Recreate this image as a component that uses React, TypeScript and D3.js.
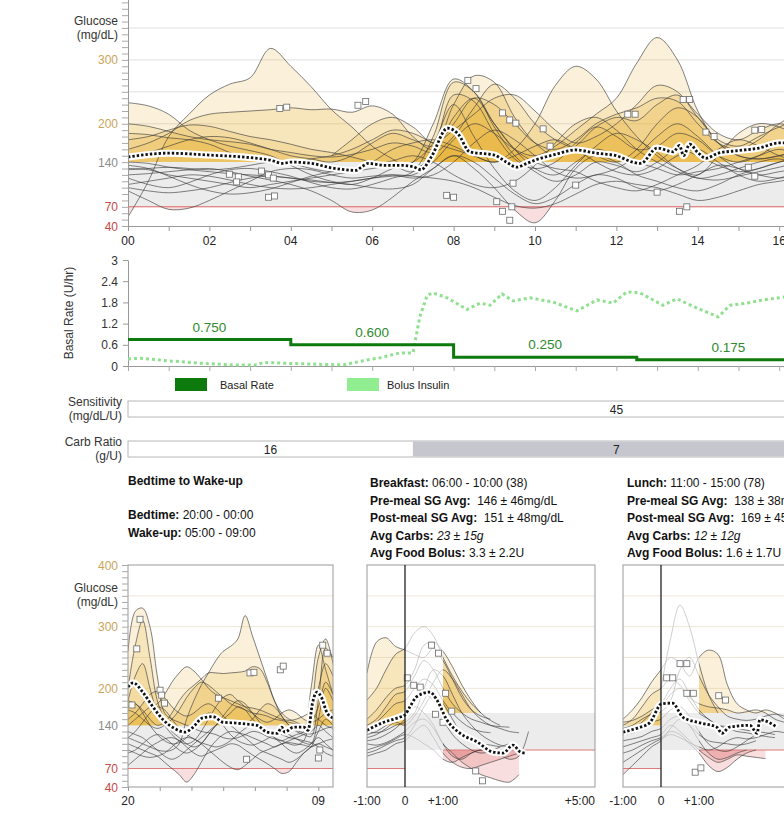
import * as React from "react";
import * as d3 from "d3";

const W = 784;
const H = 823;
const FONT = "'Liberation Sans', Arial, Helvetica, sans-serif";

// ---------- 24h overlay (hours 0..17, every half hour)
const topTimes = d3.range(0, 17.01, 0.5);
const topTraces: (number | null)[][] = [
  [54, 110, 180, 215, 245, 262, 272, 318, 290, 258, 222, 195, 165, 145, 130, 150, 210, 240, 200, 160, 130, 120, 140, 160, 150, 140, 130, 120, 125, 130, 140, 150, 160, 150, 145],
  [160, 170, 185, 205, 215, 218, 220, 222, 225, 222, 223, 218, 228, 215, 180, 160, 230, 275, 265, 210, 170, 150, 165, 195, 210, 205, 230, 245, 215, 185, 175, 190, 200, 190, 180],
  [233, 228, 215, 190, 175, 165, 158, 150, 135, 120, 110, 105, 115, 130, 140, 200, 270, 250, 195, 150, 125, 110, 120, 140, 135, 125, 140, 160, 150, 135, 125, 130, 140, 150, 160],
  [200, 196, 188, 180, 175, 172, 168, 160, 155, 150, 148, 152, 160, 170, 165, 155, 180, 225, 262, 240, 200, 175, 160, 150, 140, 160, 200, 225, 210, 170, 150, 145, 150, 160, 165],
  [185, 183, 178, 175, 168, 155, 145, 140, 138, 145, 150, 160, 175, 190, 185, 170, 160, 150, 140, 160, 200, 260, 290, 270, 220, 180, 150, 130, 120, 150, 185, 200, 195, 180, 175],
  [130, 128, 120, 115, 110, 105, 100, 105, 110, 115, 120, 125, 130, 135, 140, 170, 230, 180, 130, 95, 80, 100, 135, 165, 185, 175, 155, 130, 115, 120, 130, 140, 145, 135, 130],
  [95, 80, 66, 68, 80, 95, 110, 125, 130, 128, 120, 115, 118, 120, 115, 120, 140, 170, 190, 175, 150, 125, 115, 120, 130, 150, 180, 200, 180, 150, 130, 120, 125, 130, 135],
  [120, 122, 125, 128, 130, 125, 118, 112, 105, 95, 80, 62, 65, 85, 110, 130, 150, 140, 115, 90, 75, 85, 105, 120, 115, 100, 95, 105, 120, 135, 130, 120, 115, 120, 125],
  [140, 138, 132, 128, 125, 122, 120, 118, 115, 112, 108, 105, 100, 98, 105, 130, 150, 130, 100, 65, 45, 80, 130, 150, 140, 120, 110, 100, 95, 105, 120, 130, 140, 145, 140],
  [105, 110, 115, 120, 118, 112, 105, 100, 98, 100, 105, 110, 115, 118, 120, 140, 175, 200, 185, 160, 150, 165, 190, 215, 240, 295, 335, 300, 220, 170, 150, 145, 150, 155, 150],
  [115, 105, 100, 108, 120, 128, 130, 125, 118, 108, 100, 98, 105, 115, 125, 180, 265, 250, 200, 160, 140, 130, 125, 110, 100, 95, 105, 120, 135, 160, 175, 165, 150, 140, 135],
  [135, 130, 118, 105, 95, 90, 92, 98, 108, 118, 125, 130, 135, 142, 150, 140, 120, 105, 100, 110, 135, 170, 200, 210, 190, 160, 140, 125, 115, 112, 118, 125, 132, 140, 145],
  [150, 155, 165, 175, 180, 178, 170, 160, 150, 145, 140, 150, 170, 185, 175, 165, 200, 240, 230, 200, 170, 160, 175, 200, 215, 225, 240, 235, 200, 170, 160, 175, 200, 215, 205],
  [100, 95, 92, 95, 100, 108, 115, 118, 115, 110, 108, 110, 115, 120, 118, 115, 110, 100, 85, 72, 68, 75, 90, 105, 110, 105, 100, 90, 80, 85, 95, 105, 110, 115, 118],
  [175, 180, 190, 198, 196, 188, 180, 175, 168, 160, 155, 148, 140, 135, 125, 160, 245, 235, 185, 145, 130, 140, 170, 195, 180, 160, 165, 185, 175, 150, 140, 150, 170, 180, 175],
  [128, 130, 132, 130, 128, 130, 135, 140, 138, 130, 125, 128, 140, 160, 170, 175, 165, 150, 140, 150, 165, 175, 160, 140, 125, 120, 130, 150, 160, 140, 120, 110, 115, 125, 130],
  [null, null, null, null, null, null, null, null, null, null, 150, 175, 200, 210, 195, 170, 190, 215, 240, 245, 220, 190, 170, 180, 200, 230, 260, 250, 210, 175, 165, 180, 195, 205, 200],
];
const topMeanT = [0, 1, 2, 3, 3.5, 3.8, 4, 4.5, 5, 5.6, 5.75, 5.9, 6.3, 6.7, 7, 7.2, 7.45, 7.85, 8.1, 8.4, 9, 9.3, 9.55, 9.8, 10, 10.5, 11, 11.5, 12, 12.4, 12.6, 13, 13.4, 13.55, 13.65, 13.8, 14, 14.2, 14.5, 15, 15.5, 16, 16.5, 17];
const topMeanV = [148, 154, 151, 147, 143, 138, 140, 138, 131, 127, 133, 138, 135, 135, 133, 128, 148, 193, 185, 156, 151, 140, 132, 138, 143, 152, 159, 154, 150, 140, 138, 162, 156, 166, 150, 168, 155, 146, 154, 158, 162, 170, 170, 168];
const topMarkT = [3.73, 3.9, 5.65, 5.84, 2.49, 2.71, 2.67, 3.28, 3.45, 3.57, 3.45, 3.6, 8.35, 8.55, 9.2, 9.38, 9.53, 10.2, 10.37, 7.83, 8.0, 9.06, 9.2, 9.43, 9.38, 9.46, 11.0, 12.28, 12.46, 13.64, 13.8, 14.2, 14.4, 13.0, 13.55, 13.73, 15.24, 15.4, 15.4, 15.57];
const topMarkV = [224, 226, 229, 235, 121, 117, 109, 126, 120, 115, 85, 87, 268, 255, 217, 206, 201, 192, 165, 88, 85, 78, 63, 70, 49, 107, 104, 215, 215, 238, 238, 187, 180, 93, 63, 70, 132, 118, 190, 191];

// ---------- basal / bolus
const basalT = [0, 4, 8, 12.5, 17];
const basalV = [0.75, 0.6, 0.25, 0.175, 0.175];
const basalText = ["0.750", "0.600", "0.250", "0.175"];
const basalTicks = [0, 0.6, 1.2, 1.8, 2.4, 3];
const basalTickText = ["0", "0.6", "1.2", "1.8", "2.4", "3"];
const bolusT = [0, 0.3, 0.96, 1.77, 2.58, 3.17, 3.32, 3.8, 4.64, 5.28, 5.87, 6.19, 6.68, 7.0, 7.17, 7.35, 7.49, 7.84, 8.33, 8.65, 8.9, 9.19, 9.46, 9.88, 10.44, 11.03, 11.52, 11.92, 12.26, 12.58, 13.14, 13.49, 13.98, 14.5, 14.79, 15.21, 15.6, 16.12, 17];
const bolusV = [0.2, 0.22, 0.15, 0.08, 0.03, 0.03, 0.1, 0.08, 0.05, 0.03, 0.17, 0.23, 0.37, 0.37, 1.39, 2.0, 2.07, 1.93, 1.6, 1.78, 1.72, 2.04, 1.84, 1.93, 1.81, 1.56, 1.87, 1.78, 2.1, 2.07, 1.72, 1.9, 1.64, 1.39, 1.72, 1.78, 1.87, 1.95, 2.0];

const sensitivityValue = "45";
const carbStart = [0, 7];
const carbEnd = [7, 17];
const carbValue = ["16", "7"];

// ---------- bedtime to wake-up (hours after 20:00, every half hour)
const bedTimes = d3.range(0, 14.01, 0.5);
const bedTraces: (number | null)[][] = [
  [260, 325, 330, 300, 220, 160, 150, 145, 140, 135, 130, 128, 125, 120, 118, 120, 125, 130, 128, 122, 118, 115, 120, 125, 130, 200, 270, 230, 190],
  [200, 270, 310, 250, 180, 150, 130, 120, 110, 105, 110, 125, 140, 150, 160, 170, 165, 150, 140, 130, 120, 115, 110, 108, 115, 160, 250, 280, 240],
  [120, 115, 110, 105, 100, 98, 100, 110, 150, 180, 205, 225, 245, 260, 268, 280, 318, 285, 250, 215, 180, 155, 140, 132, 128, 126, 130, 135, 138],
  [180, 175, 165, 150, 140, 145, 160, 180, 195, 205, 215, 225, 225, 224, 225, 226, 228, 235, 232, 210, 180, 160, 150, 145, 140, 150, 200, 240, 220],
  [110, 105, 100, 95, 90, 80, 70, 60, 48, 60, 80, 100, 115, 125, 130, 128, 125, 120, 115, 110, 105, 110, 115, 120, 125, 130, 140, 130, 120],
  [180, 220, 240, 200, 160, 140, 125, 115, 110, 115, 130, 150, 170, 185, 190, 180, 170, 160, 150, 145, 150, 160, 165, 160, 150, 145, 150, 160, 165],
  [130, 125, 120, 110, 100, 90, 85, 90, 100, 110, 120, 130, 140, 145, 140, 130, 120, 110, 100, 95, 90, 85, 80, 85, 95, 105, 130, 150, 140],
  [95, 100, 110, 120, 125, 120, 110, 100, 95, 100, 110, 125, 140, 155, 170, 180, 175, 160, 145, 130, 120, 110, 100, 95, 100, 110, 120, 110, 100],
  [150, 160, 175, 190, 195, 185, 170, 160, 155, 160, 170, 175, 168, 155, 145, 140, 142, 150, 165, 175, 170, 155, 140, 130, 125, 122, 180, 265, 250],
  [100, 95, 90, 88, 90, 95, 105, 115, 120, 118, 110, 100, 90, 80, 72, 68, 75, 85, 95, 100, 105, 110, 112, 110, 108, 105, 110, 115, 118],
  [170, 175, 160, 140, 125, 115, 110, 112, 120, 135, 150, 160, 155, 140, 125, 115, 110, 108, 112, 118, 125, 130, 125, 118, 112, 110, 150, 200, 180],
  [120, 130, 145, 160, 170, 165, 150, 135, 125, 118, 112, 108, 105, 108, 115, 125, 135, 140, 138, 132, 128, 125, 120, 118, 115, 112, 105, 95, 90],
  [75, 85, 95, 105, 112, 118, 120, 115, 105, 95, 90, 95, 100, 105, 110, 108, 100, 92, 85, 78, 70, 62, 65, 80, 95, 105, 110, 105, 100],
  [140, 150, 160, 170, 175, 190, 210, 225, 235, 228, 215, 200, 190, 185, 180, 175, 170, 168, 165, 160, 155, 150, 148, 150, 155, 160, 150, 140, 135],
  [165, 160, 150, 140, 135, 140, 150, 165, 185, 200, 210, 205, 195, 185, 175, 170, 165, 160, 158, 155, 150, 148, 145, 142, 140, 145, 170, 210, 190],
];
const bedMeanT = [0, 0.35, 1, 1.7, 2.4, 3.1, 3.9, 4.4, 5.1, 5.8, 6.5, 7.2, 8.1, 8.8, 9.5, 10.2, 10.5, 10.7, 11.3, 12, 12.3, 12.6, 12.9, 13.2, 13.6, 14];
const bedMeanV = [202, 209, 194, 170, 149, 136, 129, 136, 152, 154, 145, 144, 142, 140, 129, 127, 137, 129, 137, 137, 132, 176, 194, 186, 160, 152];
const bedMarkT = [0.82, 0.6, 0.27, 2.19, 2.3, 2.5, 6.17, 8.33, 8.6, 10.4, 10.6, 13.3, 13.6, 13, 8.1, 13.1];
const bedMarkV = [312, 264, 173, 197, 189, 176, 184, 225, 226, 230, 236, 270, 257, 87, 85, 100];

// ---------- meals (hours relative to meal, every quarter hour from -1:00)
const mealTimes = d3.range(-1, 3.26, 0.25);
const breakfastTraces: (number | null)[][] = [
  [225, 275, 282, 268, 262, 255, 250, 265, 245, 215, 185, 165, 155, 150, null, null, null, null],
  [181, 200, 230, 255, 265, 290, 300, 285, 250, 220, 195, 175, 160, null, null, null, null, null],
  [150, 165, 185, 200, 205, 230, 270, 275, 260, 235, 205, 180, 160, 148, 140, null, null, null],
  [140, 150, 170, 190, 195, 220, 245, 230, 200, 175, 160, 150, 145, 140, 138, 137, null, null],
  [135, 145, 160, 175, 180, 200, 215, 205, 180, 160, 145, 135, 130, 128, null, null, null, null],
  [125, 130, 140, 150, 160, 175, 190, 180, 150, 125, 110, 100, 95, 98, 105, 110, null, null],
  [115, 118, 125, 135, 150, 170, 160, 140, 110, 90, 85, 95, 100, 95, 90, null, null, null],
  [110, 108, 112, 120, 130, 145, 150, 135, 110, 95, 80, 70, 60, 55, 50, 48, 60, null],
  [100, 105, 110, 118, 125, 120, 110, 100, 85, 80, 88, 95, 100, 98, 92, 85, 90, 130],
  [95, 100, 108, 115, 120, 140, 170, 190, 175, 150, 125, 115, 110, 108, 105, null, null, null],
  [130, 128, 132, 140, 145, 160, 200, 230, 220, 190, 160, 140, 125, 115, 108, 105, null, null],
  [90, 95, 100, 110, 115, 130, 140, 120, 95, 80, 72, 70, 75, 80, 85, 90, 95, null],
  [120, 125, 135, 145, 140, 155, 180, 210, 230, 215, 190, 165, 150, 140, 135, 130, 128, null],
];
const breakfastMeanT = [-1, -0.6, -0.15, 0, 0.13, 0.3, 0.66, 0.84, 1.1, 1.45, 1.9, 2.3, 2.58, 2.84, 3.03, 3.16];
const breakfastMeanV = [132, 144, 153, 157, 170, 186, 194, 181, 149, 127, 113, 97, 95, 108, 97, 95];
const breakfastMarkT = [0.7, 0.88, 0.06, 0.23, 0.4, 1.07, 1.23, 0.8, 1.0, 1.86, 2.04];
const breakfastMarkV = [270, 257, 217, 205, 202, 192, 163, 158, 145, 66, 50];

const lunchTraces: (number | null)[][] = [
  [null, null, null, null, 200, 280, 335, 300, 240, 190, 160, null, null, null, null, null, null, null],
  [150, 165, 185, 210, 230, 250, 240, 220, 250, 262, 255, 205, 175, 165, 160, 165, 160, 150],
  [140, 150, 170, 190, 200, 215, 205, 185, 175, 170, 168, 165, 160, 162, 165, 160, 150, 145],
  [130, 135, 145, 160, 170, 190, 200, 180, 160, 150, 140, 138, 135, 132, 130, 128, 125, null],
  [125, 128, 135, 145, 150, 165, 170, 155, 130, 110, 100, 98, 105, 115, 125, null, null, null],
  [115, 118, 122, 130, 135, 150, 155, 140, 115, 95, 85, 88, 95, 100, null, null, null, null],
  [105, 110, 115, 120, 125, 140, 130, 115, 100, 88, 80, 85, 92, 90, 88, 86, null, null],
  [95, 100, 108, 115, 120, 130, 125, 110, 95, 75, 65, 72, 85, 95, 100, null, null, null],
  [80, 90, 100, 110, 118, 125, 120, 112, 105, 100, 105, 115, 120, 118, 120, 125, 130, 128],
  [60, 75, 90, 105, 115, 135, 150, 140, 125, 115, 112, 110, 108, 110, 115, null, null, null],
  [135, 140, 150, 158, 162, 180, 230, 250, 220, 190, 170, 155, 150, 148, 150, 155, 158, 155],
  [145, 148, 155, 165, 175, 200, 215, 190, 165, 150, 140, 135, 130, 128, 125, 122, 120, null],
];
const lunchMeanT = [-1, -0.6, -0.3, 0.02, 0.3, 0.58, 1.03, 1.47, 1.6, 1.8, 2.34, 2.53, 2.6, 3.05];
const lunchMeanV = [129, 136, 144, 175, 176, 153, 144, 137, 127, 137, 140, 127, 149, 137];
const lunchMarkT = [0.5, 0.68, 0.15, 0.31, 0.68, 0.85, 1.52, 1.7, 0.9, 1.05];
const lunchMarkV = [240, 240, 217, 217, 192, 192, 188, 181, 64, 71];

const mealInfo = [
  { x: 370, title: "Breakfast:", span: " 06:00 - 10:00 (38)", pre: "  146 ± 46mg/dL", post: "  151 ± 48mg/dL", carbs: " 23 ± 15g", bolus: " 3.3 ± 2.2U" },
  { x: 627, title: "Lunch:", span: " 11:00 - 15:00 (78)", pre: "  138 ± 38mg/dL", post: "  169 ± 45mg/dL", carbs: " 12 ± 12g", bolus: " 1.6 ± 1.7U" },
];

const GOLD_TXT = "#c9a55c";
const RED_TXT = "#c84848";
const GRAY_TXT = "#8c8c8c";
const labelColor = (v: number) => (v >= 200 ? GOLD_TXT : v >= 140 ? GRAY_TXT : RED_TXT);

type Zone = { x0: number; x1: number; band: [number, number]; gold?: number; red?: number };

function glucosePanel(svg: any, defs: any, o: any) {
  const { id, x, y, left, top, right, bottom, t, traces, zones } = o;
  const g = svg.append("g");
  const boxId = `${id}-box`;
  defs.append("clipPath").attr("id", boxId).append("rect")
    .attr("x", left).attr("y", top).attr("width", right - left).attr("height", bottom - top);

  g.selectAll(null).data(o.grid).enter().append("line")
    .attr("x1", left).attr("x2", right)
    .attr("y1", (d: number) => y(d)).attr("y2", (d: number) => y(d))
    .attr("stroke", o.gridColor).attr("stroke-width", 1);

  zones.forEach((z: Zone) => {
    g.append("rect")
      .attr("x", x(z.x0)).attr("width", x(z.x1) - x(z.x0))
      .attr("y", y(z.band[1])).attr("height", y(z.band[0]) - y(z.band[1]))
      .attr("fill", "#ececec");
  });

  const curve = d3.curveCatmullRom.alpha(0.5);
  zones.forEach((z: Zone, zi: number) => {
    if (z.gold != null) {
      const cid = `${id}-gold${zi}`;
      defs.append("clipPath").attr("id", cid).append("rect")
        .attr("x", x(z.x0)).attr("width", x(z.x1) - x(z.x0))
        .attr("y", top).attr("height", y(z.gold) - top);
      const area = d3.area<number | null>()
        .defined((d) => d != null)
        .x((_, i) => x(t[i])).y0(y(z.gold)).y1((d) => y(d as number)).curve(curve);
      const gg = g.append("g").attr("clip-path", `url(#${cid})`);
      traces.forEach((tr: (number | null)[]) =>
        gg.append("path").attr("d", area(tr)).attr("fill", "#eab234").attr("fill-opacity", 0.18)
      );
    }
    if (z.red != null) {
      const cid = `${id}-red${zi}`;
      defs.append("clipPath").attr("id", cid).append("rect")
        .attr("x", x(z.x0)).attr("width", x(z.x1) - x(z.x0))
        .attr("y", y(z.red)).attr("height", bottom - y(z.red));
      const area = d3.area<number | null>()
        .defined((d) => d != null)
        .x((_, i) => x(t[i])).y0(y(z.red)).y1((d) => y(d as number)).curve(curve);
      const gr = g.append("g").attr("clip-path", `url(#${cid})`);
      traces.forEach((tr: (number | null)[]) =>
        gr.append("path").attr("d", area(tr)).attr("fill", "#e06a6a").attr("fill-opacity", 0.22)
      );
      g.append("line")
        .attr("x1", x(z.x0)).attr("x2", x(z.x1)).attr("y1", y(z.red)).attr("y2", y(z.red))
        .attr("stroke", "#e07a7a").attr("stroke-width", 1);
    }
  });

  const line = d3.line<number | null>()
    .defined((d) => d != null)
    .x((_, i) => x(t[i])).y((d) => y(d as number)).curve(curve);

  const spans: [number, number, string][] = o.light
    ? [[left, x(o.light[0]), "#3a3a3a"], [x(o.light[0]), x(o.light[1]), "#b4b4b4"], [x(o.light[1]), right, "#3a3a3a"]]
    : [[left, right, "#3a3a3a"]];
  spans.forEach(([a, b, col], si) => {
    const cid = `${id}-ln${si}`;
    defs.append("clipPath").attr("id", cid).append("rect")
      .attr("x", a).attr("y", top).attr("width", b - a).attr("height", bottom - top);
    const gl = g.append("g").attr("clip-path", `url(#${cid})`);
    traces.forEach((tr: (number | null)[]) =>
      gl.append("path").attr("d", line(tr)).attr("fill", "none")
        .attr("stroke", col).attr("stroke-width", 0.75).attr("stroke-opacity", 0.85)
    );
  });

  const gm = g.append("g").attr("clip-path", `url(#${boxId})`);
  gm.selectAll(null).data(o.markT).enter().append("rect")
    .attr("x", (d: number) => x(d) - 3).attr("y", (_: number, i: number) => y(o.markV[i]) - 3)
    .attr("width", 6).attr("height", 6)
    .attr("fill", "#fff").attr("stroke", "#6a6a6a").attr("stroke-width", 0.8);

  const meanLine = d3.line<number>()
    .x((_, i) => x(o.meanT[i])).y((d) => y(d)).curve(d3.curveMonotoneX);
  gm.append("path").attr("d", meanLine(o.meanV)).attr("fill", "none")
    .attr("stroke", "#fff").attr("stroke-width", 7).attr("stroke-linejoin", "round");
  gm.append("path").attr("d", meanLine(o.meanV)).attr("fill", "none")
    .attr("stroke", "#111").attr("stroke-width", 2.8).attr("stroke-dasharray", "2.4,2");
}

export default function App() {
  const ref = React.useRef<SVGSVGElement | null>(null);

  React.useEffect(() => {
    const svg = d3.select(ref.current);
    svg.selectAll("*").remove();
    const defs = svg.append("defs");
    const visible = (px: number) => px < W + 4;

    // ================= top 24h chart
    const xTop = d3.scaleLinear([0, 24], [128, 128 + 24 * 40.7]);
    const yTop = d3.scaleLinear([40, 400], [226, -4]);
    glucosePanel(svg, defs, {
      id: "top", x: xTop, y: yTop, left: 128, top: -4, right: xTop(24), bottom: 226,
      t: topTimes, traces: topTraces,
      zones: [{ x0: 0, x1: 24, band: [70, 140], gold: 140, red: 70 }],
      grid: [200, 250, 300, 350], gridColor: "#e0e0e0",
      meanT: topMeanT, meanV: topMeanV, markT: topMarkT, markV: topMarkV,
    });

    const axL = svg.append("g").attr("transform", "translate(128,0)")
      .call(d3.axisLeft(yTop).tickValues(d3.range(40, 401, 10)).tickSize(6).tickSizeOuter(0).tickFormat(() => ""));
    axL.select(".domain").attr("stroke", "#999");
    axL.selectAll(".tick line").attr("stroke", "#aaa");
    const axB = svg.append("g").attr("transform", "translate(0,226)")
      .call(d3.axisBottom(xTop).tickValues(d3.range(0, 25, 1)).tickSize(5).tickSizeOuter(0).tickFormat(() => ""));
    axB.select(".domain").attr("stroke", "#999");
    axB.selectAll(".tick line").attr("stroke", "#999");

    svg.append("g").selectAll("text").data([40, 70, 140, 200, 300]).enter().append("text")
      .attr("x", 118).attr("y", (d) => yTop(d) + 4.5).attr("text-anchor", "end")
      .attr("font-size", 12).attr("fill", (d) => labelColor(d)).text((d) => d);
    svg.append("g").selectAll("text").data(d3.range(0, 25, 2).filter((d) => visible(xTop(d) - 7))).enter().append("text")
      .attr("x", (d) => xTop(d)).attr("y", 245).attr("text-anchor", "middle")
      .attr("font-size", 12).attr("fill", "#222").text((d) => d3.format("02d")(d));
    [["Glucose", 25], ["(mg/dL)", 39]].forEach(([s, yy]) =>
      svg.append("text").attr("x", 118).attr("y", yy).attr("text-anchor", "end")
        .attr("font-size", 12).attr("fill", "#333").text(s as string)
    );

    // ================= basal chart
    const yBas = d3.scaleLinear([0, 3], [366, 260]);
    const bl = svg.append("g").attr("transform", "translate(128,0)")
      .call(d3.axisLeft(yBas).tickValues(basalTicks).tickSize(5).tickSizeOuter(0).tickFormat(() => ""));
    bl.select(".domain").attr("stroke", "#999");
    bl.selectAll(".tick line").attr("stroke", "#999");
    const bb = svg.append("g").attr("transform", "translate(0,366)")
      .call(d3.axisBottom(xTop).tickValues(d3.range(0, 25, 1)).tickSize(5).tickSizeOuter(0).tickFormat(() => ""));
    bb.select(".domain").attr("stroke", "#999");
    bb.selectAll(".tick line").attr("stroke", "#aaa");
    svg.append("g").selectAll("text").data(basalTicks).enter().append("text")
      .attr("x", 118).attr("y", (d) => yBas(d) + 4.5).attr("text-anchor", "end")
      .attr("font-size", 12).attr("fill", "#333").text((_, i) => basalTickText[i]);
    svg.append("text").attr("transform", "translate(73,313) rotate(-90)")
      .attr("text-anchor", "middle").attr("font-size", 12).attr("fill", "#333").text("Basal Rate (U/hr)");

    const bolusLine = d3.line<number>().x((_, i) => xTop(bolusT[i])).y((d) => yBas(d));
    svg.append("path").attr("d", bolusLine(bolusV)).attr("fill", "none")
      .attr("stroke", "#8fe08f").attr("stroke-width", 3).attr("stroke-dasharray", "3,3");
    const basalLine = d3.line<number>().x((_, i) => xTop(basalT[i])).y((d) => yBas(d)).curve(d3.curveStepAfter);
    svg.append("path").attr("d", basalLine(basalV)).attr("fill", "none")
      .attr("stroke", "#0d7a0d").attr("stroke-width", 3);
    svg.append("g").selectAll("text").data(basalText).enter().append("text")
      .attr("x", (_, i) => xTop((basalT[i] + basalT[i + 1]) / 2))
      .attr("y", (_, i) => yBas(basalV[i]) - 8)
      .attr("text-anchor", "middle").attr("font-size", 13.5).attr("fill", "#2f8a2f").text((d) => d);

    // legend
    svg.append("rect").attr("x", 175).attr("y", 378).attr("width", 32).attr("height", 13).attr("fill", "#0d7a0d");
    svg.append("text").attr("x", 220).attr("y", 389).attr("font-size", 11).attr("fill", "#222").text("Basal Rate");
    svg.append("rect").attr("x", 347).attr("y", 378).attr("width", 32).attr("height", 13).attr("fill", "#90ee90");
    svg.append("text").attr("x", 387).attr("y", 389).attr("font-size", 11).attr("fill", "#222").text("Bolus Insulin");

    // sensitivity & carb ratio
    [["Sensitivity", 406], ["(mg/dL/U)", 420], ["Carb Ratio", 446], ["(g/U)", 460]].forEach(([s, yy]) =>
      svg.append("text").attr("x", 122).attr("y", yy).attr("text-anchor", "end")
        .attr("font-size", 12).attr("fill", "#333").text(s as string)
    );
    svg.append("rect").attr("x", xTop(0)).attr("y", 401).attr("width", xTop(24) - xTop(0)).attr("height", 16)
      .attr("fill", "#fff").attr("stroke", "#c4c4c4").attr("stroke-width", 1.2);
    svg.append("text").attr("x", (xTop(0) + xTop(24)) / 2).attr("y", 413.5).attr("text-anchor", "middle")
      .attr("font-size", 12).attr("fill", "#222").text(sensitivityValue);
    svg.append("rect").attr("x", xTop(0)).attr("y", 441).attr("width", xTop(24) - xTop(0)).attr("height", 16)
      .attr("fill", "#fff").attr("stroke", "#c4c4c4").attr("stroke-width", 1.2);
    carbValue.forEach((v, i) => {
      if (i > 0)
        svg.append("rect").attr("x", xTop(carbStart[i])).attr("y", 441.5)
          .attr("width", xTop(carbEnd[i]) - xTop(carbStart[i])).attr("height", 15).attr("fill", "#c6c6cf");
      svg.append("text").attr("x", (xTop(carbStart[i]) + xTop(carbEnd[i])) / 2).attr("y", 453.5)
        .attr("text-anchor", "middle").attr("font-size", 12).attr("fill", "#222").text(v);
    });

    // ================= text blocks
    const block = (x0: number, y0: number, parts: [string, string, boolean?][]) => {
      const tx = svg.append("text").attr("x", x0).attr("y", y0).attr("font-size", 12).attr("fill", "#111")
        .style("white-space", "pre");
      parts.forEach(([b, n, it]) => {
        tx.append("tspan").attr("font-weight", "bold").text(b);
        if (n) tx.append("tspan").attr("font-style", it ? "italic" : "normal").text(n);
      });
    };
    block(128, 485, [["Bedtime to Wake-up", ""]]);
    block(128, 519, [["Bedtime:", " 20:00 - 00:00"]]);
    block(128, 537, [["Wake-up:", " 05:00 - 09:00"]]);
    mealInfo.forEach((m) => {
      block(m.x, 487, [[m.title, m.span]]);
      block(m.x, 504.5, [["Pre-meal SG Avg:", m.pre]]);
      block(m.x, 522, [["Post-meal SG Avg:", m.post]]);
      block(m.x, 539.5, [["Avg Carbs:", m.carbs, true]]);
      block(m.x, 557, [["Avg Food Bolus:", m.bolus]]);
    });

    // ================= bottom charts
    const yBot = d3.scaleLinear([40, 400], [787, 565]);
    const xBed = d3.scaleLinear([0, 14], [128, 333]);
    glucosePanel(svg, defs, {
      id: "bed", x: xBed, y: yBot, left: 128, top: 565, right: 333, bottom: 787,
      t: bedTimes, traces: bedTraces,
      zones: [{ x0: 0, x1: 14, band: [70, 140], gold: 140, red: 70 }],
      grid: [200, 250, 300, 350], gridColor: "#ede7d8",
      meanT: bedMeanT, meanV: bedMeanV, markT: bedMarkT, markV: bedMarkV,
    });
    svg.append("rect").attr("x", 128).attr("y", 565).attr("width", 205).attr("height", 222)
      .attr("fill", "none").attr("stroke", "#999");
    const bedL = svg.append("g").attr("transform", "translate(128,0)")
      .call(d3.axisLeft(yBot).tickValues(d3.range(40, 401, 10)).tickSize(6).tickSizeOuter(0).tickFormat(() => ""));
    bedL.select(".domain").remove();
    bedL.selectAll(".tick line").attr("stroke", "#aaa");
    const bedTicks = d3.range(0, 13.01, 13 / 6);
    const bedB = svg.append("g").attr("transform", "translate(0,787)")
      .call(d3.axisBottom(xBed).tickValues(bedTicks).tickSize(4).tickSizeOuter(0).tickFormat(() => ""));
    bedB.select(".domain").remove();
    bedB.selectAll(".tick line").attr("stroke", "#999");
    svg.append("g").selectAll("text").data([40, 70, 140, 200, 300, 400]).enter().append("text")
      .attr("x", 118).attr("y", (d) => yBot(d) + 4.5).attr("text-anchor", "end")
      .attr("font-size", 12).attr("fill", (d) => labelColor(d)).text((d) => d);
    [["Glucose", 592], ["(mg/dL)", 606]].forEach(([s, yy]) =>
      svg.append("text").attr("x", 118).attr("y", yy).attr("text-anchor", "end")
        .attr("font-size", 12).attr("fill", "#333").text(s as string)
    );
    [[0, "20"], [13, "09"]].forEach(([h, s]) =>
      svg.append("text").attr("x", xBed(h as number)).attr("y", 805).attr("text-anchor", "middle")
        .attr("font-size", 12).attr("fill", "#222").text(s as string)
    );

    const meals = [
      { id: "bk", x0: 367, traces: breakfastTraces, meanT: breakfastMeanT, meanV: breakfastMeanV, markT: breakfastMarkT, markV: breakfastMarkV },
      { id: "ln", x0: 623, traces: lunchTraces, meanT: lunchMeanT, meanV: lunchMeanV, markT: lunchMarkT, markV: lunchMarkV },
    ];
    meals.forEach((m) => {
      const xm = d3.scaleLinear([-1, 5], [m.x0, m.x0 + 228]);
      glucosePanel(svg, defs, {
        id: m.id, x: xm, y: yBot, left: xm(-1), top: 565, right: xm(5), bottom: 787,
        t: mealTimes, traces: m.traces, light: [0, 1],
        zones: [
          { x0: -1, x1: 0, band: [70, 140], gold: 140, red: 70 },
          { x0: 0, x1: 1, band: [100, 160] },
          { x0: 1, x1: 5, band: [100, 160], gold: 160, red: 100 },
        ],
        grid: [200, 250, 300, 350], gridColor: "#ede7d8",
        meanT: m.meanT, meanV: m.meanV, markT: m.markT, markV: m.markV,
      });
      svg.append("rect").attr("x", xm(-1)).attr("y", 565).attr("width", 228).attr("height", 222)
        .attr("fill", "none").attr("stroke", "#999");
      svg.append("line").attr("x1", xm(0)).attr("x2", xm(0)).attr("y1", 565).attr("y2", 787)
        .attr("stroke", "#222").attr("stroke-width", 1.3);
      [[-1, "-1:00", "middle"], [0, "0", "middle"], [1, "+1:00", "middle"], [5, "+5:00", "end"]]
        .filter(([h, , a]) => visible(xm(h as number) - (a === "end" ? 28 : 14)))
        .forEach(([h, s, a]) =>
          svg.append("text").attr("x", xm(h as number)).attr("y", 805).attr("text-anchor", a as string)
            .attr("font-size", 12).attr("fill", "#222").text(s as string)
        );
    });
  }, []);

  return (
    <svg
      ref={ref}
      width={W}
      height={H}
      style={{ position: "absolute", left: 0, top: 0, background: "#fff", fontFamily: FONT }}
    />
  );
}
